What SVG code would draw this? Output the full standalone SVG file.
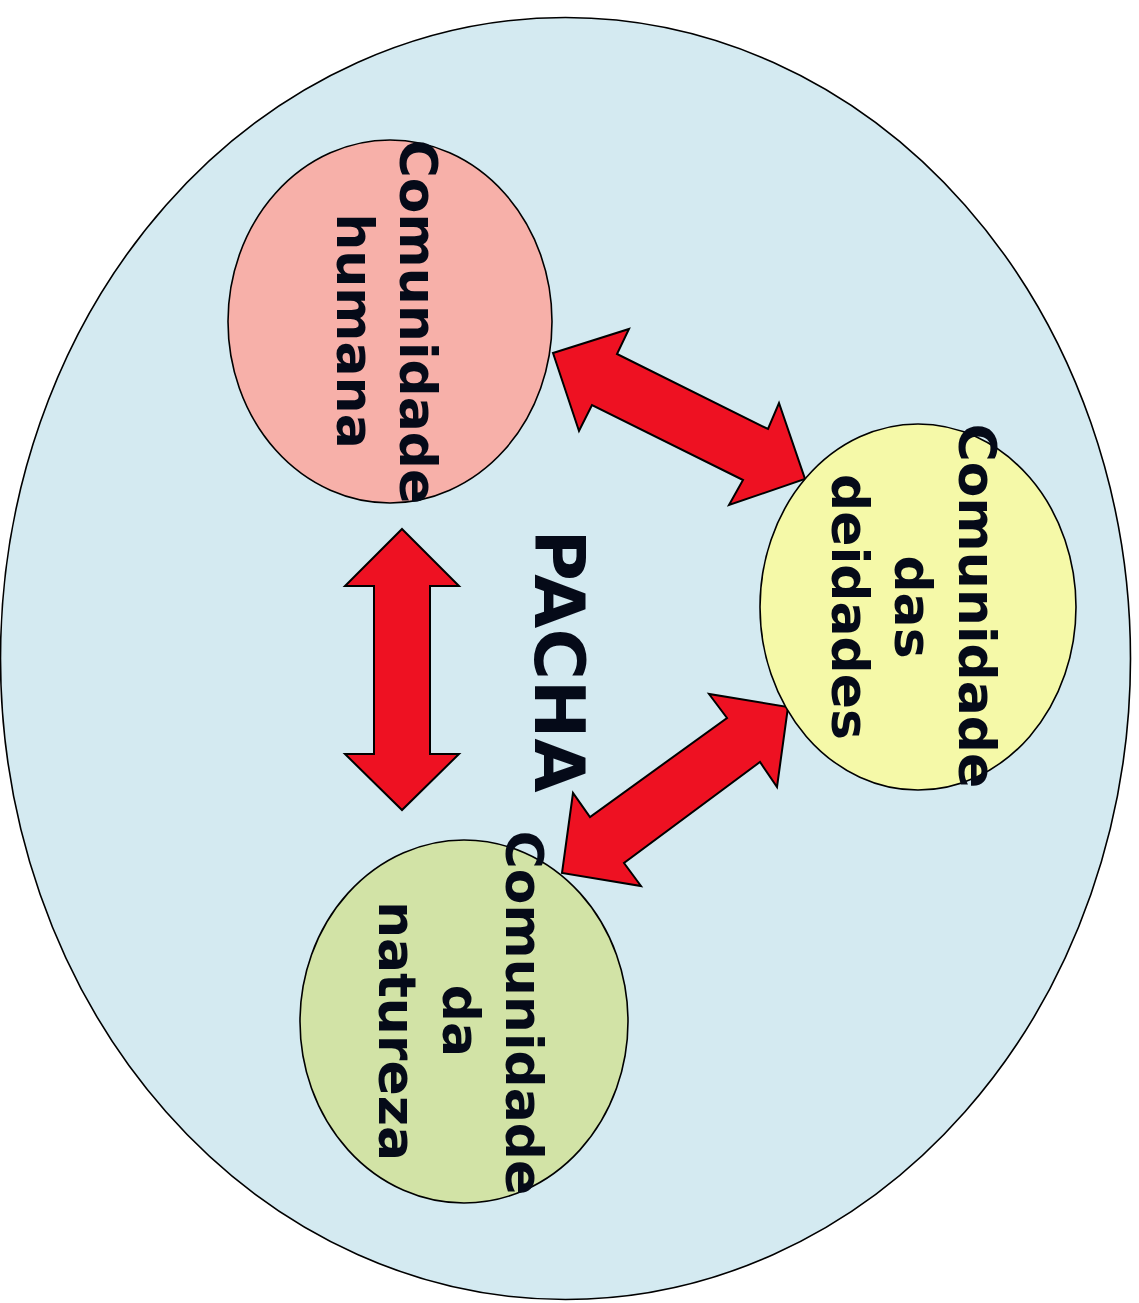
<svg xmlns="http://www.w3.org/2000/svg" width="1139" height="1303" viewBox="0 0 1139 1303">
<style>
.lbl{font-family:"DejaVu Sans","Liberation Sans",sans-serif;font-weight:bold;font-size:52px;fill:#050a18;text-anchor:middle}
.big{font-size:70px}
.node{stroke:#000;stroke-width:1.6}
.arrow{fill:#ee1122;stroke:#000;stroke-width:2;stroke-linejoin:miter}
</style>
<rect width="1139" height="1303" fill="#fff"/>
<g id="pacha">
<ellipse cx="565.5" cy="658.5" rx="565" ry="641" fill="#d4eaf1" stroke="#000" stroke-width="1.6"/>
<text class="lbl big" transform="translate(535,661) rotate(90)">PACHA</text>
</g>
<g id="connectors">
<polygon class="arrow" points="553,353 629,329 617,354 768,429 779,403 805,479 729,505 743,480 592,405 579,431"/>
<polygon class="arrow" points="402,529 459,586 430,586 430,754 459,754 402,810 345,754 374,754 374,586 345,586"/>
<polygon class="arrow" points="788,707 777,787 760,762 624,863 641,886 562,873 573,793 590,817 727,718 709,694"/>
</g>
<g id="humana">
<ellipse class="node" cx="390" cy="321.5" rx="162" ry="181.5" fill="#f7b0a9"/>
<text class="lbl" transform="translate(400,322) rotate(90)">Comunidade</text>
<text class="lbl" transform="translate(337,331) rotate(90)">humana</text>
</g>
<g id="deidades">
<ellipse class="node" cx="918" cy="607" rx="158" ry="183" fill="#f5f9a8"/>
<text class="lbl" transform="translate(959,606) rotate(90)">Comunidade</text>
<text class="lbl" transform="translate(895,607) rotate(90)">das</text>
<text class="lbl" transform="translate(832,607) rotate(90)">deidades</text>
</g>
<g id="natureza">
<ellipse class="node" cx="464" cy="1021.5" rx="164" ry="181.5" fill="#d2e3a6"/>
<text class="lbl" transform="translate(506,1013) rotate(90)">Comunidade</text>
<text class="lbl" transform="translate(443,1021) rotate(90)">da</text>
<text class="lbl" transform="translate(379,1031) rotate(90)">natureza</text>
</g>
</svg>
